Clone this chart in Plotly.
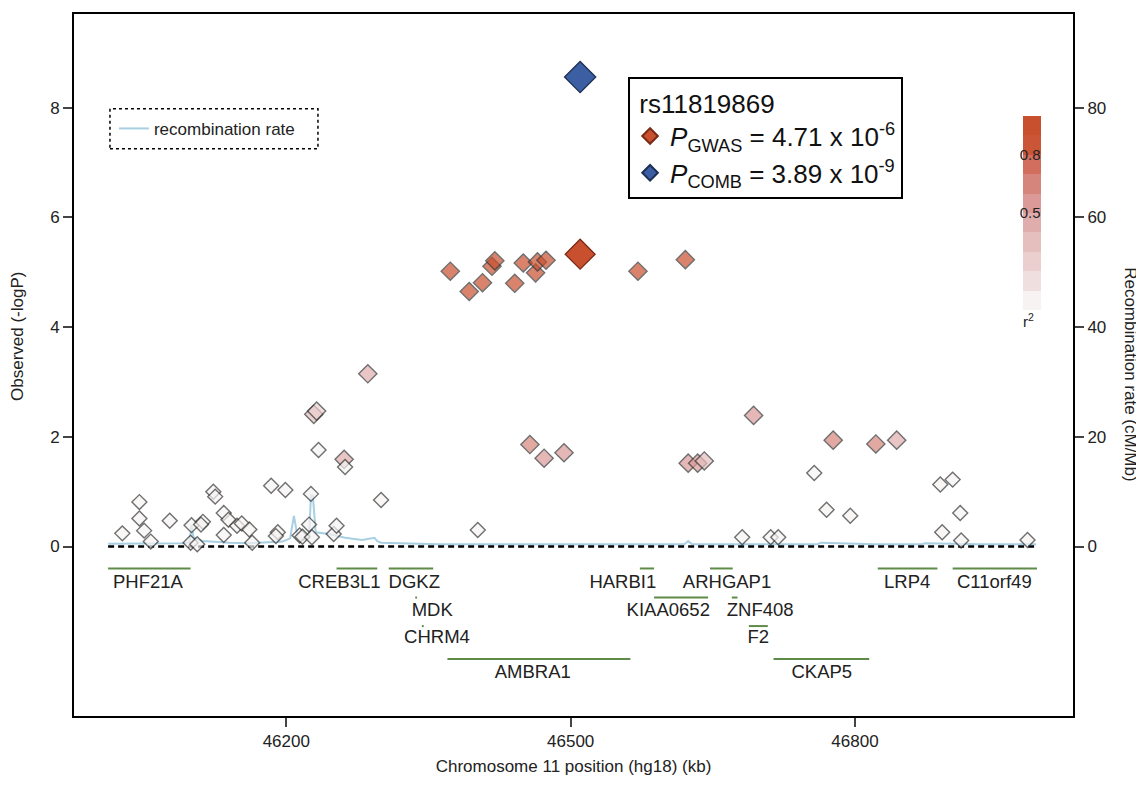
import plotly.graph_objects as go

# ---------------- data ----------------
snp_pos = [46027, 46045, 46045, 46050, 46057, 46077, 46100, 46099, 46106, 46112, 46110,
           46123, 46125, 46134, 46139, 46134, 46148, 46153, 46161, 46164, 46184, 46199,
           46191, 46189, 46214, 46217, 46224, 46226, 46227, 46229, 46232, 46234, 46250,
           46253, 46261, 46262, 46286, 46300, 46402, 46681, 46711, 46719, 46757, 46770,
           46795, 46890, 46892, 46903, 46911, 46912, 46982,
           46457, 46472, 46493, 46624, 46634, 46641, 46693, 46777, 46822, 46844,
           46373, 46393, 46407, 46417, 46420, 46441, 46450, 46463, 46465, 46474, 46571, 46621]
snp_logp = [0.24, 0.81, 0.51, 0.29, 0.09, 0.47, 0.39, 0.07, 0.04, 0.45, 0.40,
            1.00, 0.91, 0.61, 0.49, 0.21, 0.38, 0.42, 0.31, 0.07, 1.11, 1.03,
            0.26, 0.19, 0.20, 0.18, 0.40, 0.96, 0.17, 2.41, 2.47, 1.76, 0.23,
            0.38, 1.59, 1.45, 3.15, 0.85, 0.30, 0.17, 0.17, 0.17, 1.34, 0.67,
            0.56, 1.13, 0.26, 1.22, 0.61, 0.11, 0.12,
            1.86, 1.61, 1.71, 1.52, 1.52, 1.56, 2.39, 1.94, 1.87, 1.94,
            5.02, 4.65, 4.81, 5.11, 5.21, 4.80, 5.17, 4.99, 5.19, 5.22, 5.02, 5.23]
snp_r2 = [0.02, 0.02, 0.02, 0.02, 0.02, 0.02, 0.02, 0.02, 0.02, 0.02, 0.02,
          0.03, 0.03, 0.02, 0.02, 0.02, 0.02, 0.02, 0.02, 0.02, 0.03, 0.03,
          0.02, 0.02, 0.02, 0.02, 0.02, 0.02, 0.02, 0.38, 0.28, 0.02, 0.02,
          0.02, 0.42, 0.05, 0.45, 0.02, 0.02, 0.02, 0.02, 0.02, 0.03, 0.02,
          0.02, 0.02, 0.02, 0.02, 0.02, 0.02, 0.02,
          0.62, 0.55, 0.55, 0.55, 0.55, 0.35, 0.52, 0.62, 0.62, 0.40,
          0.95, 0.92, 0.92, 0.93, 0.95, 0.92, 0.95, 0.92, 0.95, 0.95, 0.92, 0.95]

index_pos = [46510]
index_gwas = [5.33]
index_comb = [8.56]

rec_pos = [46012, 46030, 46060, 46090, 46098, 46100, 46102, 46106, 46112, 46125, 46140,
           46160, 46180, 46196, 46204, 46208, 46212, 46218, 46224, 46226, 46228, 46231,
           46245, 46262, 46280, 46293, 46296, 46300, 46320, 46360, 46420, 46500, 46560,
           46620, 46624, 46628, 46700, 46760, 46764, 46820, 46870, 46874, 46930, 46991]
rec_rate = [0.5, 0.5, 0.6, 0.6, 0.8, 3.9, 1.7, 1.3, 1.0, 0.8, 0.7,
            0.6, 0.7, 0.9, 1.5, 5.6, 1.7, 1.2, 1.6, 9.3, 9.3, 2.6,
            2.3, 1.6, 1.2, 1.6, 1.0, 0.7, 0.6, 0.4, 0.4, 0.4, 0.4,
            0.4, 1.0, 0.4, 0.4, 0.4, 0.7, 0.4, 0.4, 0.6, 0.4, 0.4]

gene_names = ["PHF21A", "CREB3L1", "DGKZ", "MDK", "CHRM4", "AMBRA1", "HARBI1", "KIAA0652",
              "ARHGAP1", "ZNF408", "F2", "CKAP5", "LRP4", "C11orf49"]
gene_start = [46012, 46253, 46308, 46336, 46343, 46370, 46573, 46588, 46647, 46670, 46688,
              46714, 46824, 46903]
gene_end = [46099, 46296, 46355, 46338, 46345, 46563, 46588, 46645, 46671, 46676, 46708,
            46815, 46887, 46992]
gene_row = [0, 0, 0, 1, 2, 3, 0, 1, 0, 1, 2, 3, 0, 0]
gene_label_x = [46054, 46256, 46335, 46354, 46359, 46460, 46555, 46603, 46665, 46700, 46698,
                46765, 46855, 46947]

x_ticks = [46200, 46500, 46800]
y_ticks = [0, 2, 4, 6, 8]
rec_ticks = [0, 20, 40, 60, 80]

# ---------------- styling ----------------
FONT = "Liberation Sans, Arial, sans-serif"
ROW_LINE_Y = [-0.40, -0.93, -1.45, -2.05]
ROW_LABEL_Y = [-0.68, -1.19, -1.68, -2.32]
GENE_COLOR = "#5e8c48"
band_colors = ["#f7f3f3", "#f0dfdf", "#ebcfcf", "#e5bebe", "#e0adad",
               "#db9a98", "#d6857c", "#d16e5d", "#cb5637", "#c9502f"]
colorscale = []
n = len(band_colors)
for i, c in enumerate(band_colors):
    colorscale.append([i / n, c])
    colorscale.append([(i + 1) / n, c])

fig = go.Figure()

# recombination rate (drawn first, right axis "y")
fig.add_trace(go.Scatter(
    x=rec_pos, y=rec_rate, mode="lines", yaxis="y", name="recombination rate",
    line=dict(color="#a9cfe2", width=2), legend="legend2", showlegend=True,
    hoverinfo="skip"))

# zero dashed line
fig.add_trace(go.Scatter(
    x=[min(rec_pos), max(rec_pos)], y=[0, 0], mode="lines", yaxis="y2",
    line=dict(color="black", width=2.5, dash="6px,4px"), showlegend=False,
    hoverinfo="skip"))

# genes
gx, gy = [], []
for s, e, r in zip(gene_start, gene_end, gene_row):
    gx += [s, e, None]
    gy += [ROW_LINE_Y[r], ROW_LINE_Y[r], None]
fig.add_trace(go.Scatter(x=gx, y=gy, mode="lines", yaxis="y2",
                         line=dict(color=GENE_COLOR, width=2), showlegend=False,
                         hoverinfo="skip"))
fig.add_trace(go.Scatter(x=gene_label_x, y=[ROW_LABEL_Y[r] for r in gene_row],
                         text=gene_names, mode="text", yaxis="y2",
                         textfont=dict(family=FONT, size=18.5, color="#222222"),
                         showlegend=False, hoverinfo="skip"))

# SNPs
fig.add_trace(go.Scatter(
    x=snp_pos, y=snp_logp, mode="markers", yaxis="y2", showlegend=False,
    marker=dict(symbol="diamond",
                size=[11.5 if r < 0.1 else 14 for r in snp_r2],
                color=snp_r2, cmin=0, cmax=1, colorscale=colorscale,
                line=dict(color="#333333", width=1.4),
                showscale=True,
                colorbar=dict(x=0.95, xanchor="left", y=0.855, yanchor="top",
                              len=0.31, lenmode="fraction", thickness=18,
                              xpad=0, ypad=0,
                              outlinewidth=0, ticks="",
                              tickvals=[0.5, 0.8], ticktext=["0.5", "0.8"],
                              ticklabelposition="inside",
                              tickfont=dict(family=FONT, size=15, color="#222"),
                              title=dict(text="r<sup>2</sup>", side="bottom",
                                         font=dict(family=FONT, size=15, color="#222"))))))

fig.add_trace(go.Scatter(
    x=index_pos, y=index_gwas, mode="markers", yaxis="y2",
    name="<i>P</i><sub>GWAS</sub> = 4.71 x 10<sup>-6</sup>",
    marker=dict(symbol="diamond", size=23, color="#c9502f",
                line=dict(color="#7a2a15", width=1.3)),
    legend="legend"))
fig.add_trace(go.Scatter(
    x=index_pos, y=index_comb, mode="markers", yaxis="y2",
    name="<i>P</i><sub>COMB</sub> = 3.89 x 10<sup>-9</sup>",
    marker=dict(symbol="diamond", size=24, color="#3c5fa3",
                line=dict(color="#1d2f55", width=1.3)),
    legend="legend"))

XR = [45976, 47030]
fig.update_layout(
    width=1136, height=779,
    margin=dict(l=66, r=71, t=4, b=71),
    paper_bgcolor="white", plot_bgcolor="white",
    font=dict(family=FONT, size=17, color="#222222"),
    xaxis=dict(range=XR, tickvals=x_ticks, tickformat="d", ticks="outside", ticklen=9,
               tickwidth=1.5,
               showline=True, linecolor="black", linewidth=2, mirror=True,
               showgrid=False, zeroline=False,
               tickfont=dict(size=17),
               title=dict(text="Chromosome 11 position (hg18) (kb)",
                          font=dict(size=17), standoff=10)),
    yaxis=dict(range=[-30.9, 97.1], side="right", tickvals=rec_ticks, ticks="outside",
               ticklen=9, tickwidth=1.5, showline=True, linecolor="black", linewidth=2,
               showgrid=False, zeroline=False, tickfont=dict(size=17)),
    yaxis2=dict(range=[-3.09, 9.71], side="left", overlaying="y", tickvals=y_ticks,
                ticks="outside", ticklen=9, tickwidth=1.5, showline=True,
                linecolor="black", linewidth=2, showgrid=False, zeroline=False,
                tickfont=dict(size=17)),
    legend=dict(x=0.5546, y=0.9105, xanchor="left", yanchor="top",
                bordercolor="black", borderwidth=2, bgcolor="white",
                font=dict(family=FONT, size=26, color="#111"),
                title=dict(text=" rs11819869", font=dict(family=FONT, size=26, color="#111")),
                itemsizing="constant", tracegroupgap=0, itemwidth=30),
    legend2=dict(x=0.040, y=0.862, xanchor="left", yanchor="top",
                 borderwidth=0, bgcolor="rgba(0,0,0,0)",
                 font=dict(family=FONT, size=17, color="#222")),
    shapes=[dict(type="rect", xref="paper", yref="paper", x0=0.036, x1=0.2442,
                 y0=0.808, y1=0.865, line=dict(color="black", width=1.5, dash="dot"))],
    annotations=[
        dict(text="Observed (-logP)", xref="paper", yref="paper", x=-0.056, y=0.54,
             xanchor="center", yanchor="middle",
             textangle=-90, showarrow=False, font=dict(size=17)),
        dict(text="Recombination rate (cM/Mb)", xref="paper", yref="paper", x=1.058,
             y=0.487, xanchor="center", yanchor="middle",
             textangle=90, showarrow=False, font=dict(size=17)),
    ],
)

fig.write_html("out.html")
